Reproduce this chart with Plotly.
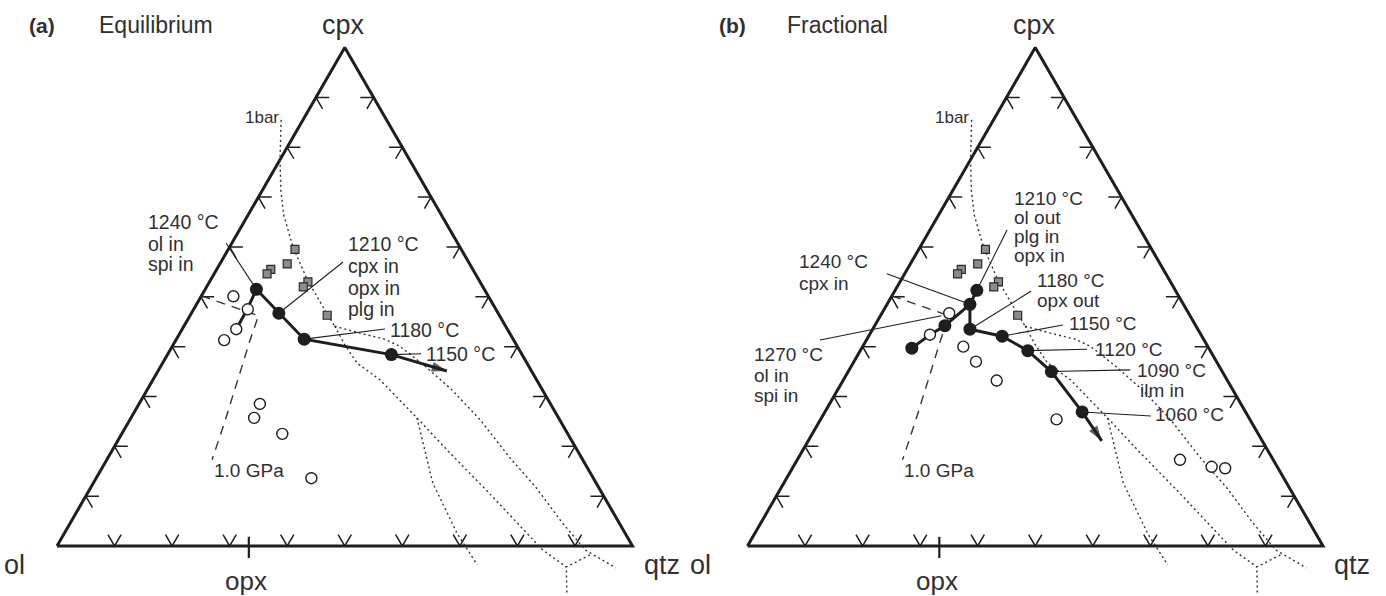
import numpy as np
import plotly.graph_objects as go

# ---------------------------------------------------------------------------
# Compositions in the ol - cpx - qtz projection, as percentages (cpx, qtz);
# ol is the remainder.
# ---------------------------------------------------------------------------

# Equilibrium crystallisation path (start, glass, steps ..., arrow end)
eq_path_cpx = [43.5, 47.4, 51.5, 46.7, 41.5, 38.4, 35.1]
eq_path_qtz = [9.4, 9.3, 8.9, 15.2, 22.2, 38.9, 50.2]
eq_step_cpx = [51.5, 46.7, 41.5, 38.4]
eq_step_qtz = [8.9, 15.2, 22.2, 38.9]

# Fractional crystallisation path
fr_path_cpx = [39.7, 42.4, 44.2, 48.5, 51.3, 48.5, 43.5, 42.1, 39.2, 35.0, 26.9, 21.1]
fr_path_qtz = [8.7, 10.5, 12.2, 14.4, 14.2, 14.4, 16.9, 23.2, 29.1, 35.3, 44.7, 51.0]
fr_step_cpx = [39.7, 44.2, 48.5, 51.3, 43.5, 42.1, 39.2, 35.0, 26.9]
fr_step_qtz = [8.7, 12.2, 14.4, 14.2, 16.9, 23.2, 29.1, 35.3, 44.7]

# Glass compositions (open circles)
eq_glass_cpx = [50.1, 47.5, 43.5, 41.3, 28.5, 25.7, 22.5, 13.6]
eq_glass_qtz = [5.6, 9.4, 9.4, 8.4, 21.0, 21.4, 27.9, 37.4]
fr_glass_cpx = [46.7, 42.4, 40.0, 37.0, 33.2, 25.4, 17.3, 15.9, 15.6]
fr_glass_qtz = [11.7, 10.5, 17.5, 21.2, 26.7, 41.0, 66.5, 72.7, 75.2]

# 1 bar experimental liquids (grey squares), shared by both panels
bar_cpx = [59.5, 56.6, 55.5, 54.6, 53.0, 52.0, 46.3]
bar_qtz = [11.6, 11.7, 9.4, 9.2, 17.1, 16.8, 23.8]

# 1 bar phase boundaries (dotted)
b1bar_cpx = [85.5, 77.5, 71.4, 66.4, 60.0, 53.4, 48.0, 44.1]
b1bar_qtz = [-3.8, 0.0, 3.2, 6.2, 11.0, 16.8, 22.2, 26.2]
bnd1_cpx = [44.1, 42.7, 41.5, 40.1, 36.1, 31.3, 25.3, 17.9, 11.8, 4.8, -0.8, -4.4]
bnd1_qtz = [26.2, 31.3, 36.2, 39.5, 45.9, 53.0, 60.9, 69.6, 77.3, 85.3, 92.2, 99.3]
bnd2_cpx = [44.1, 40.3, 36.7, 33.3, 25.7, 19.3, 10.6, -0.8, -4.2]
bnd2_qtz = [26.2, 29.9, 33.8, 39.5, 49.7, 58.1, 69.8, 84.8, 90.6]
bnd3_cpx = [25.7, 12.6, 2.6, -3.8]
bnd3_qtz = [49.7, 59.0, 68.2, 74.9]
bnd4_cpx = [-1.8, -4.2, -9.8]
bnd4_qtz = [93.5, 90.6, 93.5]

# 1.0 GPa boundary (dashed)
gpa_cpx = [50.2, 48.2, 46.5, 46.2, 41.3, 32.7, 25.3, 17.3]
gpa_qtz = [0.0, 6.0, 11.0, 11.9, 12.9, 14.9, 16.6, 18.3]

# opx position on the ol - qtz join
opx_qtz = 100 / 3

SQ3 = np.sqrt(3) / 2
INK = "#1e1e1e"
TXT = "#303030"
FONT = "Liberation Sans, Arial, Helvetica, sans-serif"


def tern(cpx, qtz):
    cpx = np.asarray(cpx, float)
    qtz = np.asarray(qtz, float)
    return qtz + cpx / 2, cpx * SQ3


fig = go.Figure()


def axes(p):
    return ("x", "y") if p == 0 else ("x2", "y2")


def line(p, cpx, qtz, width=1.4, dash=None, color=INK):
    x, y = tern(cpx, qtz)
    xa, ya = axes(p)
    fig.add_trace(go.Scatter(x=x, y=y, mode="lines", xaxis=xa, yaxis=ya,
                             line=dict(color=color, width=width, dash=dash),
                             hoverinfo="skip"))


def seg_xy(p, xs, ys, width=1.2, color=INK):
    xa, ya = axes(p)
    fig.add_trace(go.Scatter(x=xs, y=ys, mode="lines", xaxis=xa, yaxis=ya,
                             line=dict(color=color, width=width),
                             hoverinfo="skip"))


def points(p, cpx, qtz, symbol, size, fill, edge, ew):
    x, y = tern(cpx, qtz)
    xa, ya = axes(p)
    fig.add_trace(go.Scatter(x=x, y=y, mode="markers", xaxis=xa, yaxis=ya,
                             marker=dict(symbol=symbol, size=size, color=fill,
                                         line=dict(color=edge, width=ew)),
                             cliponaxis=False, hoverinfo="skip"))


def frame(p):
    # triangle outline
    line(p, [0, 0, 100, 0], [0, 100, 0, 0], width=3.0)
    # chevron ticks every 10 %, arms parallel to the other two sides
    arm = 2.3
    t = np.arange(10, 100, 10)
    xs, ys = [], []
    sides = [
        (tern(np.zeros_like(t), t), [(0.5, SQ3), (-0.5, SQ3)]),          # ol-qtz
        (tern(t, np.zeros_like(t)), [(1.0, 0.0), (0.5, -SQ3)]),          # ol-cpx
        (tern(t, 100 - t), [(-1.0, 0.0), (-0.5, -SQ3)]),                 # cpx-qtz
    ]
    for (px, py), dirs in sides:
        for x0, y0 in zip(px, py):
            (ax1, ay1), (ax2, ay2) = dirs
            xs += [x0 + arm * ax1, x0, x0 + arm * ax2, None]
            ys += [y0 + arm * ay1, y0, y0 + arm * ay2, None]
    seg_xy(p, xs, ys, width=1.5)
    # opx marker on the base
    ox, _ = tern([0], [opx_qtz])
    seg_xy(p, [ox[0], ox[0]], [1.6, -2.1], width=2.2)
    # shared boundaries
    line(p, b1bar_cpx, b1bar_qtz, width=1.4, dash="2px,3px", color="#333333")
    for c, q in [(bnd1_cpx, bnd1_qtz), (bnd2_cpx, bnd2_qtz),
                 (bnd3_cpx, bnd3_qtz), (bnd4_cpx, bnd4_qtz)]:
        line(p, c, q, width=1.4, dash="2px,3px", color="#333333")
    line(p, gpa_cpx, gpa_qtz, width=1.4, dash="9px,7px", color="#333333")
    points(p, bar_cpx, bar_qtz, "square", 8, "#8c8c8c", "#2a2a2a", 1.2)


def path(p, cpx, qtz, step_cpx, step_qtz, g_cpx, g_qtz):
    line(p, cpx, qtz, width=3.0)
    points(p, g_cpx, g_qtz, "circle", 11, "#ffffff", INK, 1.4)
    x, y = tern(cpx[-2:], qtz[-2:])
    xa, ya = axes(p)
    fig.add_trace(go.Scatter(x=x, y=y, mode="markers", xaxis=xa, yaxis=ya,
                             marker=dict(symbol="arrow", size=[0, 16], color=INK,
                                         angleref="previous", line=dict(width=0)),
                             cliponaxis=False, hoverinfo="skip"))
    points(p, step_cpx, step_qtz, "circle", 13, INK, INK, 0)


def leader(p, cpx, qtz, tx, ty):
    x, y = tern([cpx], [qtz])
    seg_xy(p, [tx, x[0]], [ty, y[0]], width=1.1)


# ---------------- panel (a): equilibrium ----------------
frame(0)
leader(0, eq_step_cpx[0], eq_step_qtz[0], 29.4, 52.6)
leader(0, eq_step_cpx[1], eq_step_qtz[1], 49.7, 49.35)
leader(0, eq_step_cpx[2], eq_step_qtz[2], 57.0, 37.7)
leader(0, eq_step_cpx[3], eq_step_qtz[3], 63.25, 33.4)
path(0, eq_path_cpx, eq_path_qtz, eq_step_cpx, eq_step_qtz, eq_glass_cpx, eq_glass_qtz)

# ---------------- panel (b): fractional ----------------
frame(1)
seg_xy(1, [12.6, 33.7], [35.8, 40.0], width=1.1)
leader(1, fr_step_cpx[2], fr_step_qtz[2], 24.2, 47.3)
leader(1, fr_step_cpx[3], fr_step_qtz[3], 45.1, 54.9)
leader(1, fr_step_cpx[4], fr_step_qtz[4], 49.3, 44.3)
leader(1, fr_step_cpx[5], fr_step_qtz[5], 54.8, 38.4)
leader(1, fr_step_cpx[6], fr_step_qtz[6], 59.0, 34.2)
leader(1, fr_step_cpx[7], fr_step_qtz[7], 66.5, 30.6)
leader(1, fr_step_cpx[8], fr_step_qtz[8], 70.1, 22.6)
path(1, fr_path_cpx, fr_path_qtz, fr_step_cpx, fr_step_qtz, fr_glass_cpx, fr_glass_qtz)

# ---------------- text ----------------
texts = {
    0: [("<b>(a)</b>", -5.2, 90.5, 21, "left"),
        ("Equilibrium", 6.95, 90.5, 23, "left"),
        ("cpx", 49.8, 90.5, 27, "center"),
        ("ol", -7.3, -3.3, 27, "center"),
        ("opx", 32.8, -6.0, 26, "center"),
        ("qtz", 105.1, -3.3, 27, "center"),
        ("1bar", 32.3, 74.4, 17, "left"),
        ("1.0 GPa", 26.9, 13.2, 19, "left"),
        ("1240 °C", 15.5, 56.3, 19.5, "left"),
        ("ol in", 15.5, 52.5, 19.5, "left"),
        ("spi in", 15.5, 49.0, 19.5, "left"),
        ("1210 °C", 50.2, 52.5, 19.5, "left"),
        ("cpx in", 50.2, 48.65, 19.5, "left"),
        ("opx in", 50.2, 44.83, 19.5, "left"),
        ("plg in", 50.2, 41.18, 19.5, "left"),
        ("1180 °C", 57.5, 37.5, 19.5, "left"),
        ("1150 °C", 63.8, 33.4, 19.5, "left")],
    1: [("<b>(b)</b>", -5.35, 90.5, 21, "left"),
        ("Fractional", 6.5, 90.5, 23, "left"),
        ("cpx", 49.8, 90.5, 27, "center"),
        ("ol", -8.1, -3.3, 27, "center"),
        ("opx", 32.9, -6.0, 26, "center"),
        ("qtz", 105.0, -3.3, 27, "center"),
        ("1bar", 32.3, 74.4, 17, "left"),
        ("1.0 GPa", 26.8, 13.2, 19, "left"),
        ("1270 °C", 0.8, 33.2, 19, "left"),
        ("ol in", 0.8, 29.7, 19, "left"),
        ("spi in", 0.8, 26.2, 19, "left"),
        ("1240 °C", 8.6, 49.35, 19, "left"),
        ("cpx in", 8.6, 45.7, 19, "left"),
        ("1210 °C", 45.9, 60.4, 19, "left"),
        ("ol out", 45.9, 57.1, 19, "left"),
        ("plg in", 45.9, 53.8, 19, "left"),
        ("opx in", 45.9, 50.5, 19, "left"),
        ("1180 °C", 50.0, 46.1, 19, "left"),
        ("opx out", 50.0, 42.7, 19, "left"),
        ("1150 °C", 55.5, 38.6, 19, "left"),
        ("1120 °C", 60.1, 34.2, 19, "left"),
        ("1090 °C", 67.3, 30.5, 19, "left"),
        ("ilm in", 67.9, 27.1, 19, "left"),
        ("1060 °C", 70.5, 22.8, 19, "left")],
}
for p, items in texts.items():
    xa, ya = axes(p)
    for txt, x, y, size, anchor in items:
        fig.add_annotation(x=x, y=y, xref=xa, yref=ya, text=txt, showarrow=False,
                           xanchor=anchor, yanchor="middle",
                           font=dict(family=FONT, size=size, color=TXT))

hidden = dict(visible=False, showgrid=False, zeroline=False, fixedrange=True)
fig.update_layout(
    width=1386, height=596,
    margin=dict(l=0, r=0, t=0, b=0),
    paper_bgcolor="white", plot_bgcolor="white",
    showlegend=False,
    xaxis=dict(domain=[0, 0.5], range=[-9.904, 110.513], **hidden),
    yaxis=dict(domain=[0, 1], range=[-8.688, 94.874], anchor="x", **hidden),
    xaxis2=dict(domain=[0.5, 1], range=[-9.470, 110.947], anchor="y2", **hidden),
    yaxis2=dict(domain=[0, 1], range=[-8.688, 94.874], anchor="x2", **hidden),
)

fig.write_html("out.html")
